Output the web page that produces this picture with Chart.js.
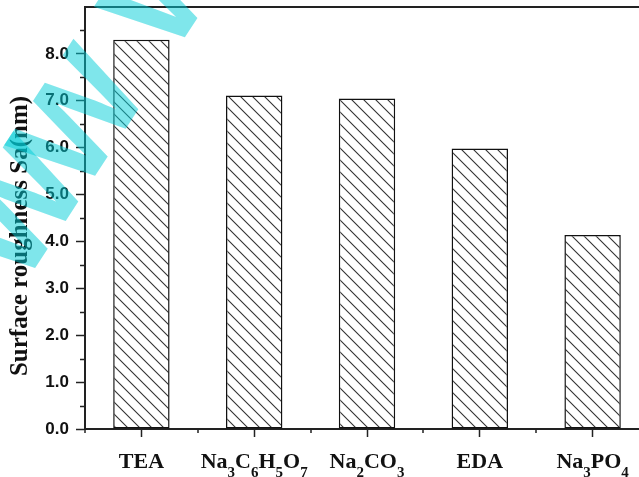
<!DOCTYPE html>
<html>
<head>
<meta charset="utf-8">
<script src="https://cdn.jsdelivr.net/npm/chart.js@4.4.1/dist/chart.umd.min.js"></script>
<style>
  html, body { margin: 0; padding: 0; background: #fff; overflow: hidden; }
  #wrap { width: 649px; height: 477px; }
</style>
</head>
<body>
<div id="wrap"><canvas id="roughChart"></canvas></div>
<script>
// chart data
const categories = ['TEA', 'Na3C6H5O7', 'Na2CO3', 'EDA', 'Na3PO4'];
const roughness = [8.30, 7.11, 7.05, 5.98, 4.14];
const yMin = 0;
const yMax = 9;
const yStep = 1;
const yTitle = 'Surface roughness Sa(nm)';
const watermark = ['W', 'W', 'W'];
const watermarkShift = [-110, 0, 165];

const canvas = document.getElementById('roughChart');
const ctx2d = canvas.getContext('2d');

// diagonal hatch fill like the original plot
function makeHatch() {
    const tile = document.createElement('canvas');
    tile.width = 12;
    tile.height = 12;
    const g = tile.getContext('2d');
    g.fillStyle = '#fff';
    g.fillRect(0, 0, 12, 12);
    g.strokeStyle = '#333';
    g.lineWidth = 1.1;
    g.beginPath();
    g.moveTo(-2, -2); g.lineTo(14, 14);
    g.moveTo(-2, 10); g.lineTo(2, 14);
    g.moveTo(10, -2); g.lineTo(14, 2);
    g.stroke();
    return ctx2d.createPattern(tile, 'repeat');
}

// draws a formula label with numbers lowered as subscripts
function drawFormula(ctx, text, cx, baseY) {
    const bigFont = 'bold 22px "Liberation Serif", "Times New Roman", serif';
    const smallFont = 'bold 15px "Liberation Serif", "Times New Roman", serif';
    const parts = text.match(/[0-9]+|[^0-9]+/g);
    let total = 0;
    parts.forEach(p => {
        ctx.font = /[0-9]/.test(p) ? smallFont : bigFont;
        total += ctx.measureText(p).width;
    });
    let x = cx - total / 2;
    ctx.textAlign = 'left';
    ctx.textBaseline = 'alphabetic';
    ctx.fillStyle = '#111';
    parts.forEach(p => {
        const sub = /[0-9]/.test(p);
        ctx.font = sub ? smallFont : bigFont;
        ctx.fillText(p, x, sub ? baseY + 9 : baseY);
        x += ctx.measureText(p).width;
    });
}

const framePlugin = {
    id: 'frame',
    afterDraw(chart) {
        const ctx = chart.ctx;
        const area = chart.chartArea;
        const x = chart.scales.x;
        const y = chart.scales.y;
        ctx.save();

        // top frame line
        ctx.strokeStyle = '#222';
        ctx.lineWidth = 2;
        ctx.beginPath();
        ctx.moveTo(area.left, area.top);
        ctx.lineTo(area.right + 5, area.top);
        ctx.stroke();

        // minor ticks
        ctx.lineWidth = 1.5;
        ctx.beginPath();
        for (let v = yMin + yStep / 2; v < yMax; v += yStep) {
            const py = Math.round(y.getPixelForValue(v)) + 0.5;
            ctx.moveTo(area.left - 5, py);
            ctx.lineTo(area.left, py);
        }
        for (let i = 0; i <= categories.length; i++) {
            const px = Math.round(x.getPixelForValue(i - 0.5));
            ctx.moveTo(px, area.bottom);
            ctx.lineTo(px, area.bottom + 4);
        }
        ctx.stroke();

        // category labels
        categories.forEach((c, i) => {
            drawFormula(ctx, c, x.getPixelForValue(i), 468);
        });

        // y axis title
        ctx.translate(21, 236);
        ctx.rotate(-Math.PI / 2);
        ctx.font = 'bold 25px "Liberation Serif", "Times New Roman", serif';
        ctx.textAlign = 'center';
        ctx.textBaseline = 'middle';
        ctx.fillStyle = '#111';
        ctx.fillText(yTitle, 0, 0);
        ctx.restore();

        // cyan watermark over the plot
        ctx.save();
        ctx.translate(82, 196);
        ctx.rotate(-57 * Math.PI / 180);
        ctx.font = 'bold 135px "Liberation Sans", Arial, sans-serif';
        ctx.fillStyle = 'rgba(0, 205, 215, 0.5)';
        ctx.textAlign = 'left';
        ctx.textBaseline = 'alphabetic';
        watermark.forEach((w, i) => ctx.fillText(w, watermarkShift[i], 0));
        ctx.restore();
    }
};

new Chart(ctx2d, {
    type: 'bar',
    data: {
        labels: categories,
        datasets: [{
            data: roughness,
            backgroundColor: makeHatch(),
            borderColor: '#111',
            borderWidth: 1.5,
            borderSkipped: false,
            barPercentage: 1,
            categoryPercentage: 0.5
        }]
    },
    options: {
        responsive: true,
        maintainAspectRatio: false,
        animation: false,
        layout: { padding: { top: 7, right: 0, left: 0, bottom: 0 } },
        plugins: {
            legend: { display: false },
            tooltip: { enabled: false }
        },
        scales: {
            x: {
                offset: true,
                grid: {
                    offset: false,
                    drawOnChartArea: false,
                    tickLength: 8,
                    tickWidth: 1.5,
                    tickColor: '#222'
                },
                border: { color: '#222', width: 2 },
                ticks: { display: false },
                afterFit(scale) { scale.height = 48; }
            },
            y: {
                min: yMin,
                max: yMax,
                grid: {
                    drawOnChartArea: false,
                    tickLength: 9,
                    tickWidth: 1.5,
                    tickColor: '#222'
                },
                border: { color: '#222', width: 2 },
                ticks: {
                    stepSize: yStep,
                    padding: 7,
                    color: '#111',
                    font: { family: '"Liberation Sans", Arial, sans-serif', size: 17, weight: 'bold' },
                    callback: v => v.toFixed(1)
                },
                afterBuildTicks(scale) {
                    scale.ticks = scale.ticks.filter(t => t.value < yMax);
                },
                afterFit(scale) {
                    scale.width = 85;
                    scale.paddingTop = 0;
                    scale.paddingBottom = 0;
                }
            }
        }
    },
    plugins: [framePlugin]
});
</script>
</body>
</html>
